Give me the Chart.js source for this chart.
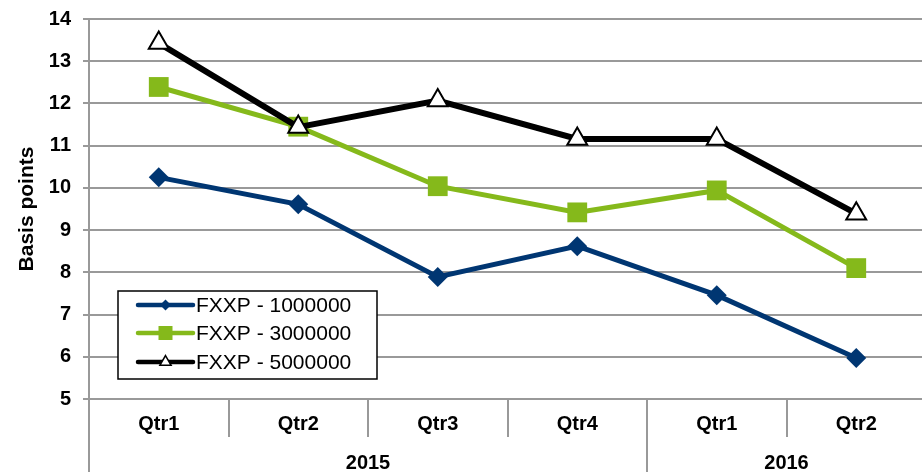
<!DOCTYPE html>
<html>
<head>
<meta charset="utf-8">
<script src="https://cdn.jsdelivr.net/npm/chart.js@4/dist/chart.umd.min.js"></script>
<style>
  html, body { margin: 0; padding: 0; background: #fff; overflow: hidden; }
  #wrap { width: 922px; height: 472px; overflow: hidden; position: relative; }
  canvas { display: block; }
</style>
</head>
<body>
<div id="wrap"><canvas id="c" width="940" height="472" style="width:940px;height:472px"></canvas></div>
<script>
// Quarterly categories, grouped by year on a second label row
const quarters = ['Qtr1', 'Qtr2', 'Qtr3', 'Qtr4', 'Qtr1', 'Qtr2'];
const years    = ['2015', '2015', '2015', '2015', '2016', '2016'];

// Series (basis points)
const seriesNames = ['FXXP - 1000000', 'FXXP - 3000000', 'FXXP - 5000000'];
const fxxp1m = [10.25, 9.61, 7.89, 8.62, 7.46, 5.97];
const fxxp3m = [12.39, 11.45, 10.04, 9.42, 9.94, 8.10];
const fxxp5m = [13.43, 11.44, 12.07, 11.16, 11.16, 9.39];

// Value axis range
const yMin = 5, yMax = 14, yStep = 1;

const FONT = '"Liberation Sans", Arial, sans-serif';
const GRID = '#999999';
const BLUE = '#003672';
const GREEN = '#85B91B';
const BLACK = '#000000';

// Two-level category axis: quarter row, year row and cell dividers
const groupedAxis = {
  id: 'groupedAxis',
  afterDraw(chart) {
    const ctx = chart.ctx;
    const xs = chart.scales.x;
    const area = chart.chartArea;
    const n = quarters.length;
    const px = i => xs.getPixelForValue(i);
    const half = n > 1 ? (px(1) - px(0)) / 2 : (area.right - area.left) / 2;
    const qRowY = area.bottom + 25;
    const qRowBottom = area.bottom + 38;
    const yRowY = area.bottom + 64;
    const bottom = chart.height;

    ctx.save();
    ctx.strokeStyle = GRID;
    ctx.lineWidth = 2;
    // extend value axis line through the label rows
    ctx.beginPath();
    ctx.moveTo(area.left, area.bottom);
    ctx.lineTo(area.left, bottom);
    ctx.stroke();
    // dividers between cells
    for (let i = 1; i < n; i++) {
      const bx = Math.round((px(i - 1) + px(i)) / 2);
      const yearEdge = years[i] !== years[i - 1];
      ctx.beginPath();
      ctx.moveTo(bx, area.bottom);
      ctx.lineTo(bx, yearEdge ? bottom : qRowBottom);
      ctx.stroke();
    }

    ctx.fillStyle = '#000';
    ctx.textAlign = 'center';
    ctx.textBaseline = 'middle';
    ctx.font = 'bold 20px ' + FONT;
    quarters.forEach((q, i) => ctx.fillText(q, px(i), qRowY));

    // year groups from consecutive equal entries
    let start = 0;
    for (let i = 1; i <= n; i++) {
      if (i === n || years[i] !== years[start]) {
        const left = px(start) - half;
        const right = px(i - 1) + half;
        ctx.fillText(years[start], (left + right) / 2, yRowY);
        start = i;
      }
    }
    ctx.restore();
  }
};

// Boxed legend inside the plot
const boxedLegend = {
  id: 'boxedLegend',
  afterDraw(chart) {
    const ctx = chart.ctx;
    const box = { x: 118, y: 291, w: 259, h: 88 };
    ctx.save();
    ctx.fillStyle = '#fff';
    ctx.fillRect(box.x, box.y, box.w, box.h);
    ctx.strokeStyle = '#000';
    ctx.lineWidth = 1.5;
    ctx.strokeRect(box.x, box.y, box.w, box.h);

    const rows = [305, 333, 362];
    const order = [0, 1, 2];
    order.forEach((di, r) => {
      const ds = chart.data.datasets[di];
      const y = rows[r];
      const x0 = 138, x1 = 193, xm = (x0 + x1) / 2;
      ctx.strokeStyle = ds.borderColor;
      ctx.lineWidth = 4.5;
      ctx.lineCap = 'round';
      ctx.beginPath();
      ctx.moveTo(x0, y);
      ctx.lineTo(x1, y);
      ctx.stroke();
      ctx.lineCap = 'butt';
      ctx.beginPath();
      if (ds.pointStyle === 'rectRot') {
        const s = 5.5;
        ctx.moveTo(xm, y - s); ctx.lineTo(xm + s, y); ctx.lineTo(xm, y + s); ctx.lineTo(xm - s, y);
        ctx.closePath();
        ctx.fillStyle = ds.pointBackgroundColor;
        ctx.fill();
      } else if (ds.pointStyle === 'rect') {
        const s = 7;
        ctx.rect(xm - s, y - s, 2 * s, 2 * s);
        ctx.fillStyle = ds.pointBackgroundColor;
        ctx.fill();
      } else {
        const rr = 6.5;
        ctx.moveTo(xm, y - rr);
        ctx.lineTo(xm + rr * 0.866, y + rr / 2);
        ctx.lineTo(xm - rr * 0.866, y + rr / 2);
        ctx.closePath();
        ctx.fillStyle = '#fff';
        ctx.fill();
        ctx.strokeStyle = '#000';
        ctx.lineWidth = 1.5;
        ctx.stroke();
      }
      ctx.fillStyle = '#000';
      ctx.font = '21px ' + FONT;
      ctx.textAlign = 'left';
      ctx.textBaseline = 'middle';
      ctx.fillText(ds.label, 196, y + 1);
    });
    ctx.restore();
  }
};

new Chart(document.getElementById('c'), {
  type: 'line',
  data: {
    labels: quarters,
    datasets: [
      {
        label: seriesNames[0], data: fxxp1m, order: 2,
        borderColor: BLUE, borderWidth: 5, pointStyle: 'rectRot',
        pointRadius: 10, pointBackgroundColor: BLUE, pointBorderColor: BLUE, pointBorderWidth: 0,
        tension: 0
      },
      {
        label: seriesNames[1], data: fxxp3m, order: 1,
        borderColor: GREEN, borderWidth: 5, pointStyle: 'rect',
        pointRadius: 14, pointBackgroundColor: GREEN, pointBorderColor: GREEN, pointBorderWidth: 0,
        tension: 0
      },
      {
        label: seriesNames[2], data: fxxp5m, order: 0,
        borderColor: BLACK, borderWidth: 6, pointStyle: 'triangle',
        pointRadius: 11.5, pointBackgroundColor: '#fff', pointBorderColor: '#000', pointBorderWidth: 2,
        tension: 0
      }
    ]
  },
  options: {
    responsive: false,
    animation: false,
    devicePixelRatio: 1,
    layout: { padding: { top: 19, left: 0, right: 0, bottom: 0 } },
    plugins: {
      legend: { display: false },
      tooltip: { enabled: false }
    },
    scales: {
      x: {
        type: 'category',
        offset: true,
        ticks: { display: false },
        grid: { display: false },
        border: { display: false },
        afterFit(scale) { scale.height = 73; }
      },
      y: {
        min: yMin, max: yMax,
        ticks: {
          stepSize: yStep,
          color: '#000',
          padding: 12,
          font: { family: FONT, size: 20, weight: 'bold' }
        },
        grid: { color: GRID, lineWidth: 2, tickLength: 6, drawTicks: true },
        border: { display: true, color: GRID, width: 2 },
        title: {
          display: true,
          text: 'Basis points',
          color: '#000',
          font: { family: FONT, size: 21, weight: 'bold' },
          padding: { top: 15, bottom: 0 }
        },
        afterFit(scale) {
          scale.width = 89;
          scale.paddingTop = 0;
          scale.paddingBottom = 0;
        }
      }
    }
  },
  plugins: [groupedAxis, boxedLegend]
});
</script>
</body>
</html>
